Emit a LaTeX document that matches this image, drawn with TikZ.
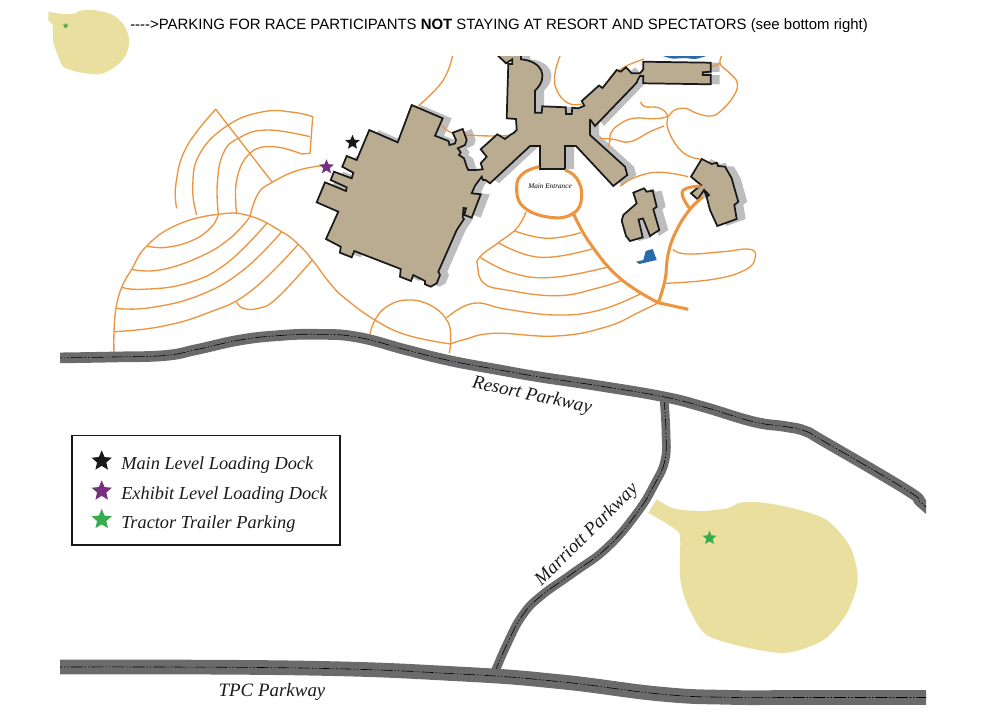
\documentclass[tikz,border=0pt]{standalone}
\usepackage{fontspec}
\setmainfont{Liberation Sans}
\newfontfamily\mapfont{Liberation Serif}
\usetikzlibrary{shapes.geometric}
\definecolor{lotyellow}{HTML}{E9DF9E}
\definecolor{paving}{HTML}{6B6B6B}
\definecolor{hotelfill}{HTML}{B9AC91}
\definecolor{shade}{HTML}{BDBDBD}
\definecolor{trail}{HTML}{EC9440}
\definecolor{pond}{HTML}{2A6CAB}
\definecolor{dockpurple}{HTML}{77307F}
\definecolor{truckgreen}{HTML}{36AC4F}
\tikzset{
x=0.75pt, y=-0.75pt, % one unit is one pixel of the map
trailthin/.style={trail, line width=1.0pt, line join=round, tension=0.75}, % paths and parking rows
trailthick/.style={trail, line width=2.3pt, line join=round, tension=0.75}, % main drives
roadbed/.style={paving, line width=#1, tension=0.75}, % grey band of a road
roadmark/.style={black, line width=0.45pt, tension=0.75, dash pattern=on 9pt off 1.5pt on 1pt off 1.5pt on 1pt off 1.5pt}, % centre line
hotel/.style={fill=hotelfill, draw=black!90, line width=1.3pt, line join=miter, miter limit=3},
hotelshade/.style={fill=shade, shift={(9,0)}},
pin/.style={star, star points=5, star point ratio=2.2, inner sep=0pt, minimum size=#1},
roadname/.style={font=\mapfont\itshape\fontsize{14.2}{16}\selectfont, text=black!90},
keyname/.style={font=\mapfont\itshape\fontsize{13.75}{16}\selectfont, text=black!90, anchor=west, inner sep=0pt},
}
\newcommand{\lobbyplan}{(411.7,105) -- (442.7,118.3) -- (435,135.7) -- (448.5,141) -- (449.5,145) -- (455,143.5) -- (456,140) -- (452.7,132.7) -- (462.7,129) -- (466.7,140) -- (465,145) -- (457.7,148.3) -- (460.7,152.3) -- (459,155) -- (464,158.3) -- (466.7,166.7) -- (468.3,170) -- (476,170) -- (482.7,169.3) -- (480.7,163.3) -- (486.7,156.7) -- (480.7,149.3) -- (497.3,134.3) -- (505,139) -- (510,135) -- (514,132.7) -- (516.7,130) -- (516,119) -- (506.7,118.3) -- (508.3,64) -- (512.3,64) -- (512.3,59.3) -- (506,63.3) -- (498.3,56) -- (496,52) -- (521,52) -- (521,59.3) .. controls (541,61) and (550,76) .. (535,90.7) -- (535,112.7) -- (541.7,112.7) -- (542.3,106.3) -- (565.7,107.3) -- (566,114) -- (571.7,114) -- (572.3,107.7) -- (578.3,108.3) -- (584.3,105.7) -- (581.7,101) -- (599,85.5) -- (602.5,88) -- (616.7,70) -- (620.7,71.7) -- (626,67.3) -- (631.7,73.3) -- (640,73.3) -- (643.3,69.3) -- (643.3,61.7) -- (710.7,62.7) -- (710.7,71.7) -- (702.7,72.3) -- (702.7,75) -- (710.7,75) -- (710.7,84.3) -- (643.3,83.3) -- (643.3,76) -- (640,76) -- (637.7,80) -- (636.7,82.7) -- (595,126) -- (590,119.3) -- (590,135) -- (625,166.7) -- (627.3,175) -- (613.3,186) -- (576,146) -- (565,146) -- (565,169) -- (540,169) -- (540,146) -- (530,146) -- (490,183.3) -- (485.5,180) -- (483,180) -- (481.7,176.7) -- (475,185.7) -- (471.7,193.3) -- (480.7,194.3) -- (471.7,217.7) -- (464.3,215) -- (466,208.3) -- (463.5,208) -- (462.7,217.7) -- (464,219) -- (456.7,230) -- (438.3,271.7) -- (440,275) -- (436.7,283.3) -- (430.7,286.7) -- (425,284.3) -- (425,281) -- (413.3,275) -- (411,281) -- (400,276.7) -- (400.7,269) -- (354.3,251) -- (351.7,257.3) -- (340,252.7) -- (340.7,246.7) -- (326,239) -- (338.3,211.7) -- (316.7,202.3) -- (325,182.3) -- (346,191) -- (346.7,187.3) -- (330.7,180) -- (334,171.7) -- (351.7,178.3) -- (353.3,172.7) -- (342.3,166.7) -- (346.7,156) -- (356.7,160) -- (369.3,130) -- (397.7,142.3) -- cycle}
\newcommand{\villaplan}{(633.3,192.7) -- (644,188.3) -- (646.7,191.7) -- (652.7,190.7) -- (656.7,206.7) -- (653.3,209.3) -- (659.3,230) -- (650,236) -- (643,218.5) -- (638.5,219.5) -- (642.7,237.3) -- (630,241) -- (626,236) -- (621.7,220.7) -- (623.3,215) -- (636.7,203.3) -- cycle}
\newcommand{\lodgeplan}{(701.7,159) -- (711.7,164) -- (716.7,162.7) -- (718,166) -- (725,166.7) -- (731.7,178.3) -- (733.3,184.3) -- (738.3,201.7) -- (734.3,205) -- (736.7,219) -- (717.3,226) -- (710,210) -- (705,190.7) -- (709,195) -- (706.7,196.7) -- (704,190) -- (697.7,199.3) -- (691,193.3) -- (701,185) -- (691,176.7) -- cycle}
\newcommand{\resortline}{(50,358) (113,357) (165,355.5) (196.7,349.5) (240,340) (280,335.5) (316.7,334.3) (356.7,337) (406.7,350) (450,360.7) (500,370) (540,377) (600,386) (663.3,396.7) (703,406.7) (753.3,421.7) (785,426.5) (805,431) (825,442) (906.7,490) (920,501.7) (932,512)}
\newcommand{\marriottline}{(664,398) (666,433) (665,460) (655,483.3) (636.7,513.3) (606.7,548) (573,573) (540,596.7) (522,616) (508,642) (495,671.7)}
\newcommand{\tpcline}{(50,667) (300,668) (460,674) (560,681.7) (660,694) (726.7,697.3) (800,697.5) (935,697.5)}
\begin{document}
\begin{tikzpicture}
	\useasboundingbox (0,0) rectangle (981,722);
	% upper lot and note
	\fill[lotyellow] plot[smooth] coordinates {(48.3,11.7) (63.3,14) (75,13.3) (80,10.7) (93.3,10) (113,15) (125,26.7) (129.3,41.7) (125,56.7) (113,68.3) (98.3,74.3) (76.7,71.7) (63.3,66.7) (58.3,56.7) (53.3,41.7) (52.7,25) (48.3,20.7)} -- cycle;
	\node[pin=4.5pt, fill=truckgreen] (lotpin) at (65.7,25.7) {};
	\node[anchor=west, inner sep=0pt, font=\fontsize{11.2}{13}\selectfont] (note) at (130,26) {{-}{-}{-}{-}>PARKING FOR RACE PARTICIPANTS \textbf{NOT} STAYING AT RESORT AND SPECTATORS (see bottom right)};
	% buildings, paths, water
	\begin{scope}
		\clip (0,56) rectangle (981,722);
		\fill[pond] plot[smooth] coordinates {(660,55) (672,58.5) (686,58) (695,59) (710,55)} -- cycle;
		\fill[hotelshade] \lobbyplan;
		\fill[hotelshade] \villaplan;
		\fill[hotelshade] \lodgeplan;
		\draw[trailthin] plot[smooth] coordinates {(453.3,52) (443.3,80) (418.3,106)};
		\draw[trailthin] plot[smooth] coordinates {(441.7,125) (453,133) (480,135.7) (506.7,135.7)};
		\draw[trailthin] plot[smooth] coordinates {(561.5,52) (555,73.3) (556.7,90) (568.3,103.3) (581.7,104)};
		\draw[trailthin] plot[smooth] coordinates {(610,77.3) (625,66.7) (644,59)};
		\draw[trailthin] (711.7,66.7) -- (720,63.3);
		\draw[trailthin] plot[smooth] coordinates {(724,52) (720,63.3) (730,73.3) (737.3,83.3) (733.3,96.7) (720,111.7) (710,116) (696.7,113.3) (685,108.3) (673.3,110.7) (667.3,116.7) (653.3,118.7) (633.3,118.3) (618.3,125) (610.7,133.3) (610,140) (608.3,146.7)};
		\draw[trailthin] plot[smooth] coordinates {(640.7,101.7) (645,106.7) (658.3,107.7) (667.3,115) (667.3,126.7) (675,143.3) (686.7,155) (700,159)};
		\draw[trailthin] plot[smooth] coordinates {(664,126) (650,131.7) (630,141.7) (613.3,139.3) (600,138.3)};
		\draw[trailthin] plot[smooth] coordinates {(620,186) (636.7,176.7) (660,172.3) (688.3,176.7)};
		\draw[hotel] \lobbyplan;
		\draw[hotel] \villaplan;
		\draw[hotel] \lodgeplan;
		\fill[pond] (636,261.7) -- (643.3,260) -- (645.7,251) -- (652.7,249) -- (656.7,260) -- (645,262.7) -- (639.3,264) -- cycle;
	\end{scope}
	% west parking fans
	\draw[trailthin] plot[smooth] coordinates {(176.7,208.3) (176,183.3) (186.7,146.7) (215.7,109.3)} -- (272.3,182.3);
	\draw[trailthin] plot[smooth] coordinates {(196.7,215) (192.7,186.7) (200,153.3) (228.3,125) (263.3,111.7) (293.3,112.3) (312.7,116.7)} -- (310,153.3) -- (301.7,154);
	\draw[trailthin] plot[smooth] coordinates {(301.7,154) (273.3,146.7) (250,153.3) (236.7,180) (236.7,214)};
	\draw[trailthin] plot[smooth] coordinates {(218.3,214) (217.3,183.3) (223.3,153.3) (238.3,138.3) (266.7,130) (310,136.7)};
	\draw[trailthin] plot[smooth] coordinates {(250,216) (258.3,193.3) (272.3,182.3) (296.7,170.7) (321.7,165.7)};
	\draw[trailthin] plot[smooth] coordinates {(114,353.3) (114,331.7) (116,308.3) (121.7,287.3) (131.7,269.3) (146.7,246) (176.7,225) (218.3,214.3) (250,216) (281.7,231.7) (298.3,244.3) (312.3,260) (330,283.3) (345,298.3) (375,320) (406.7,335) (450.7,344)};
	\draw[trailthin] plot[smooth] coordinates {(450.7,344) (465,339.3) (495,333.3) (556.7,336) (606.7,326.7) (640,311.7) (658.3,302.7)};
	\draw[trailthin] plot[smooth] coordinates {(146.7,246) (166.7,247.3) (193.3,240) (211.7,226.7) (218.3,214.3)};
	\draw[trailthin] plot[smooth] coordinates {(131.7,269.3) (160,270) (200,256.7) (230,238.3) (250,216.7)};
	\draw[trailthin] plot[smooth] coordinates {(121.7,287.3) (143.3,289.3) (186.7,283.3) (226.7,263.3) (266.7,223.3)};
	\draw[trailthin] plot[smooth] coordinates {(116,308.3) (150,307.7) (200,295) (243.3,270) (281.7,231.7)};
	\draw[trailthin] plot[smooth] coordinates {(114,331.7) (160,326.7) (206.7,313.3) (250,291.7) (298.3,244.3)};
	\draw[trailthin] plot[smooth] coordinates {(236.7,302.3) (243.3,308.3) (258.3,308.3) (276.7,298.3) (312.3,260)};
	\draw[trailthin] plot[smooth] coordinates {(370,334) (375,320) (386.7,306.7) (406.7,300) (430,305) (446.7,320) (450.7,336.7) (449.3,353)};
	\draw[trailthin] plot[smooth] coordinates {(446.7,317.7) (473.3,303.3) (506.7,309.3) (556.7,315) (600,310) (640,294)};
	% entrance fan
	\draw[trailthin] plot[smooth] coordinates {(526,211.7) (516.7,228.3) (498.3,242.7) (480,256.7) (477.7,266.7) (484,283.3) (506.7,290) (556.7,295.7) (596.7,288.3) (622.7,280)};
	\draw[trailthin] plot[smooth] coordinates {(514,230.7) (546.7,238.3) (580.7,232.7)};
	\draw[trailthin] plot[smooth] coordinates {(498.3,242.7) (540,257.3) (591.7,249)};
	\draw[trailthin] plot[smooth] coordinates {(480,257.3) (513.3,273.3) (553.3,277.3) (606.7,267.3)};
	\draw[trailthin] plot[smooth] coordinates {(672.7,249.3) (686.7,254) (723.3,251.7) (750,249.3) (755,258.3) (745,270) (713.3,279.3) (666,283.3)};
	% drives
	\draw[trailthick] plot[smooth] coordinates {(539.3,166.7) (523.3,173.3) (516.7,186.7) (523.3,206.7) (550,217.3) (573.3,213.3) (581.7,196.7) (576.7,178.3) (565,170)};
	\draw[trailthick] plot[smooth] coordinates {(573.3,213.3) (590,243.3) (620,278.3) (658.3,302.7)} -- (688.3,309.3);
	\draw[trailthick] plot[smooth] coordinates {(703.3,196.7) (690,209.3) (676.7,230) (668.3,253.3) (665,280) (658.3,302.7)};
	\draw[trailthick] plot[smooth] coordinates {(700.7,186) (686.7,188.3) (682.3,195) (690,209.3)};
	% lower lot
	\fill[lotyellow] plot[smooth] coordinates {(656.7,499.3) (673.3,508.3) (700,511) (726.7,508.3) (740,502.7) (760,502.3) (793,508.3) (826.7,520) (850,546.7) (857.7,580) (846.7,613.3) (823.3,640) (786.7,652.7) (750,648.3) (713.3,638.3) (700,628.3) (686.7,603.3) (680,576.7) (680,536.7) (673.3,528) (648.3,512.7)} -- cycle;
	% roads
	\begin{scope}
		\clip (60,0) rectangle (926,722);
		\draw[roadbed=6.5pt] plot[smooth] coordinates {\marriottline};
		\draw[roadmark] plot[smooth] coordinates {\marriottline};
		\draw[roadbed=8pt] plot[smooth] coordinates {\resortline};
		\draw[roadmark] plot[smooth] coordinates {\resortline};
		\draw[roadbed=11pt] plot[smooth] coordinates {\tpcline};
		\draw[roadmark] plot[smooth] coordinates {\tpcline};
	\end{scope}
	% stars on the map
	\node[pin=11.5pt, fill=black!90] (maindock) at (352.5,142.5) {};
	\node[pin=11.5pt, fill=dockpurple] (exhibitdock) at (326.5,167) {};
	\node[pin=11pt, fill=truckgreen] (trailerpin) at (709.5,538) {};
	% labels
	\node[font=\mapfont\itshape\fontsize{5.4}{6}\selectfont, inner sep=0pt] (entrance) at (550,186.5) {Main Entrance};
	\node[roadname, rotate=-12] (resort) at (532,396) {Resort Parkway};
	\node[roadname, rotate=45] (marriott) at (587,535) {Marriott Parkway};
	\node[roadname] (tpc) at (272,692) {TPC Parkway};
	% legend
	\node[draw=black!90, line width=1.3pt, minimum width=201pt, minimum height=82pt, inner sep=0pt] (legend) at (206.3,490.2) {};
	\node[pin=16pt, fill=black!90] (keymain) at (101.7,461) {};
	\node[pin=16pt, fill=dockpurple] (keyexhibit) at (101.7,491) {};
	\node[pin=16pt, fill=truckgreen] (keytrailer) at (101.7,519.5) {};
	\node[keyname] (keymaintext) at (121,465) {Main Level Loading Dock};
	\node[keyname] (keyexhibittext) at (121,495) {Exhibit Level Loading Dock};
	\node[keyname] (keytrailertext) at (121,524) {Tractor Trailer Parking};
\end{tikzpicture}
\end{document}
